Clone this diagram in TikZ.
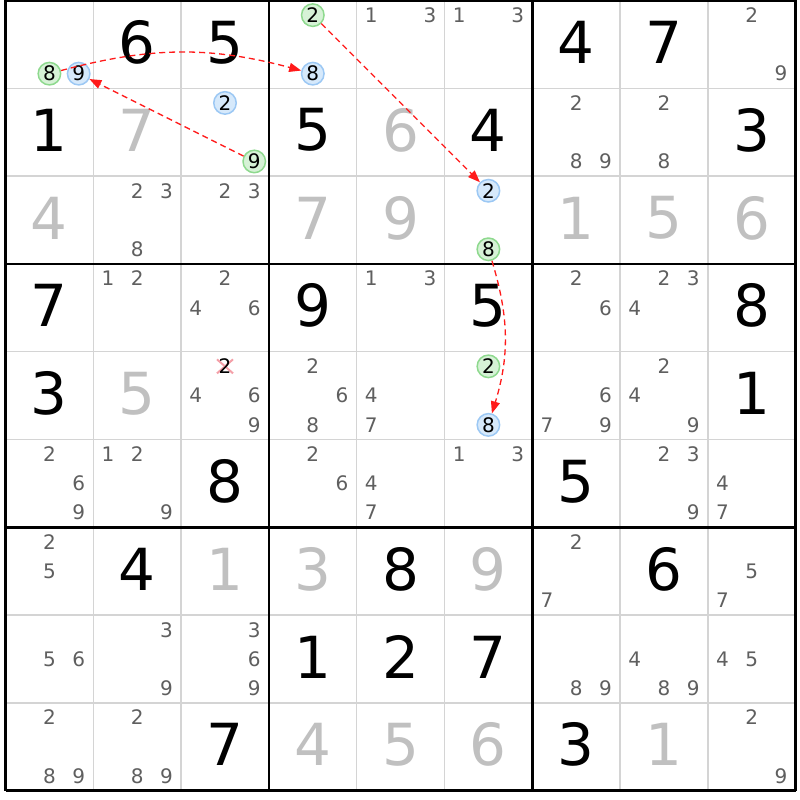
\documentclass[tikz,border=0pt]{standalone}
\usepackage{fontspec}
\setmainfont{DejaVu Sans}
\usetikzlibrary{arrows.meta}
\definecolor{candc}{HTML}{5F5F5F}
\definecolor{solvc}{HTML}{C0C0C0}
\definecolor{gridc}{HTML}{D4D4D4}
\definecolor{greenf}{HTML}{D6F2D6}
\definecolor{greenb}{HTML}{8ED98E}
\definecolor{bluef}{HTML}{D6E9FB}
\definecolor{blueb}{HTML}{9CC8F4}
\definecolor{pinkx}{HTML}{F4A0A8}
\definecolor{linkc}{HTML}{FF1A1A}
\newcommand\GivenD[3]{\node[given] (n#1#2) at ({cx(#2)},{cy(#1)}) {#3};}
\newcommand\SolvedD[3]{\node[solved] (n#1#2) at ({cx(#2)},{cy(#1)}) {#3};}
\newcommand\CandD[3]{\foreach \dd in {#3}{\node[cand] (k#1#2\dd) at ({kx(#2,\dd)},{ky(#1,\dd)}) {\dd};}}
\newcommand\GreenC[3]{\node[gcirc] (k#1#2#3) at ({kx(#2,#3)},{ky(#1,#3)}) {#3};}
\newcommand\BlueC[3]{\node[bcirc] (k#1#2#3) at ({kx(#2,#3)},{ky(#1,#3)}) {#3};}
\begin{document}
\begin{tikzpicture}[x=1pt,y=-1pt,
  declare function={cx(\c)=5.5+87.8*(\c+0.5); cy(\r)=0.5+87.8*(\r+0.5);
    kx(\c,\d)=5.5+87.8*\c+14.633*(2*mod(\d-1,3)+1);
    ky(\r,\d)=0.5+87.8*\r+14.633*(2*int((\d-1)/3)+1);},
  given/.style={font=\fontsize{58}{58}\selectfont, text=black, inner sep=0pt, yshift=2pt},
  solved/.style={given, text=solvc},
  cand/.style={font=\fontsize{20}{20}\selectfont, text=candc, inner sep=0pt},
  gcirc/.style={cand, text=black, circle, draw=greenb, fill=greenf, line width=1.5pt, minimum size=22.5pt},
  bcirc/.style={gcirc, draw=blueb, fill=bluef},
  thingrid/.style={gridc, line width=1.5pt},
  thickgrid/.style={black, line width=2.8pt},
  xmark/.style={pinkx, line width=2pt},
  link/.style={linkc, line width=1.3pt, dash pattern=on 6pt off 4pt, -{Triangle[length=12pt,width=9pt]}}
]
\useasboundingbox (0,0) rectangle (800,800);
\fill[white] (0,0) rectangle (800,800);
% grid
\foreach \i in {0,...,9}{
  \draw[thingrid] ({5.5+87.8*\i},0.5) -- ({5.5+87.8*\i},790.7);
  \draw[thingrid] (5.5,{0.5+87.8*\i}) -- (795.7,{0.5+87.8*\i});
}
\foreach \i in {0,3,6,9}{
  \draw[thickgrid] ({5.5+87.8*\i},0.5) -- ({5.5+87.8*\i},790.7);
  \draw[thickgrid] (5.5,{0.5+87.8*\i}) -- (795.7,{0.5+87.8*\i});
}
% row 0
\GreenC{0}{0}{8} \BlueC{0}{0}{9}
\GivenD{0}{1}{6} \GivenD{0}{2}{5}
\GreenC{0}{3}{2} \BlueC{0}{3}{8}
\CandD{0}{4}{1,3} \CandD{0}{5}{1,3}
\GivenD{0}{6}{4} \GivenD{0}{7}{7} \CandD{0}{8}{2,9}
% row 1
\GivenD{1}{0}{1} \SolvedD{1}{1}{7}
\BlueC{1}{2}{2} \GreenC{1}{2}{9}
\GivenD{1}{3}{5} \SolvedD{1}{4}{6} \GivenD{1}{5}{4}
\CandD{1}{6}{2,8,9} \CandD{1}{7}{2,8} \GivenD{1}{8}{3}
% row 2
\SolvedD{2}{0}{4} \CandD{2}{1}{2,3,8} \CandD{2}{2}{2,3}
\SolvedD{2}{3}{7} \SolvedD{2}{4}{9}
\BlueC{2}{5}{2} \GreenC{2}{5}{8}
\SolvedD{2}{6}{1} \SolvedD{2}{7}{5} \SolvedD{2}{8}{6}
% row 3
\GivenD{3}{0}{7} \CandD{3}{1}{1,2} \CandD{3}{2}{2,4,6}
\GivenD{3}{3}{9} \CandD{3}{4}{1,3} \GivenD{3}{5}{5}
\CandD{3}{6}{2,6} \CandD{3}{7}{2,3,4} \GivenD{3}{8}{8}
% row 4
\GivenD{4}{0}{3} \SolvedD{4}{1}{5}
\coordinate (x422) at ({kx(2,2)},{ky(4,2)});
\draw[xmark] ([xshift=-8pt,yshift=7pt]x422) -- ([xshift=8pt,yshift=-7pt]x422);
\draw[xmark] ([xshift=-8pt,yshift=-7pt]x422) -- ([xshift=8pt,yshift=7pt]x422);
\node[cand, text=black] (k422) at (x422) {2};
\CandD{4}{2}{4,6,9}
\CandD{4}{3}{2,6,8} \CandD{4}{4}{4,7}
\GreenC{4}{5}{2} \BlueC{4}{5}{8}
\CandD{4}{6}{6,7,9} \CandD{4}{7}{2,4,9} \GivenD{4}{8}{1}
% row 5
\CandD{5}{0}{2,6,9} \CandD{5}{1}{1,2,9} \GivenD{5}{2}{8}
\CandD{5}{3}{2,6} \CandD{5}{4}{4,7} \CandD{5}{5}{1,3}
\GivenD{5}{6}{5} \CandD{5}{7}{2,3,9} \CandD{5}{8}{4,7}
% row 6
\CandD{6}{0}{2,5} \GivenD{6}{1}{4} \SolvedD{6}{2}{1}
\SolvedD{6}{3}{3} \GivenD{6}{4}{8} \SolvedD{6}{5}{9}
\CandD{6}{6}{2,7} \GivenD{6}{7}{6} \CandD{6}{8}{5,7}
% row 7
\CandD{7}{0}{5,6} \CandD{7}{1}{3,9} \CandD{7}{2}{3,6,9}
\GivenD{7}{3}{1} \GivenD{7}{4}{2} \GivenD{7}{5}{7}
\CandD{7}{6}{8,9} \CandD{7}{7}{4,8,9} \CandD{7}{8}{4,5}
% row 8
\CandD{8}{0}{2,8,9} \CandD{8}{1}{2,8,9} \GivenD{8}{2}{7}
\SolvedD{8}{3}{4} \SolvedD{8}{4}{5} \SolvedD{8}{5}{6}
\GivenD{8}{6}{3} \SolvedD{8}{7}{1} \CandD{8}{8}{2,9}
% links
\draw[link] (k008) to[bend left=15] (k038);
\draw[link] (k129) -- (k009);
\draw[link] (k032) -- (k252);
\draw[link] (k258) to[bend left=17] (k458);
\end{tikzpicture}
\end{document}
